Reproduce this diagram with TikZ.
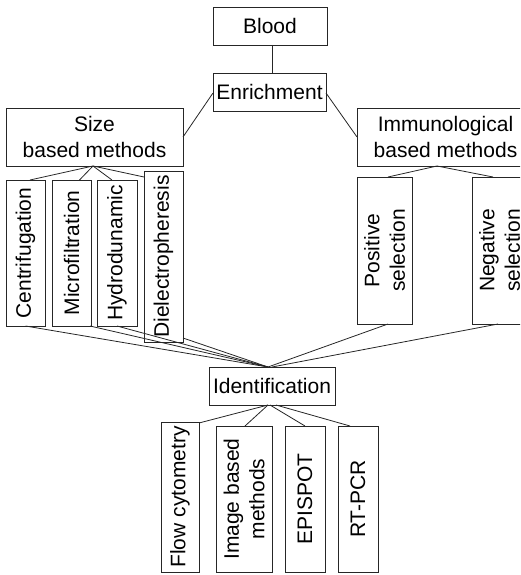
\documentclass[tikz,border=0pt]{standalone}
\usepackage{fontspec}
\setmainfont{Liberation Sans}
\begin{document}
\begin{tikzpicture}[x=1pt,y=-1pt,
  font=\fontsize{21}{25.5}\selectfont,
  box/.style={draw=black!85, line width=0.8pt, inner sep=0pt, outer sep=0pt, align=center},
  vtext/.style={rotate=90, inner sep=0pt, align=center},
  conn/.style={draw=black!85, line width=0.8pt}]
\useasboundingbox (0,0) rectangle (520,575);
\clip (0,0) rectangle (520,575);
% top level
\node[box, minimum width=114pt, minimum height=38pt] (blood) at (270,26) {Blood};
\node[box, minimum width=113pt, minimum height=38pt] (enr) at (269.5,92) {Enrichment};
\node[box, minimum width=177pt, minimum height=58pt] (size) at (94.5,137) {Size\\based methods};
\node[box, minimum width=177pt, minimum height=58pt] (imm) at (445.5,137) {Immunological\\based methods};
% size based children
\node[box, minimum width=39pt, minimum height=146pt] (cen) at (25.5,253) {};
\node[vtext] (centx) at (cen.center) {Centrifugation};
\node[box, minimum width=39pt, minimum height=146pt] (mic) at (71.5,253) {};
\node[vtext] (mictx) at (mic.center) {Microfiltration};
\node[box, minimum width=40pt, minimum height=146pt] (hyd) at (117,253) {};
\node[vtext] (hydtx) at (hyd.center) {Hydrodunamic};
\node[box, minimum width=39pt, minimum height=171pt] (die) at (163.5,256.5) {};
\node[vtext] (dietx) at (die.center) {Dielectropheresis};
% immunological children
\node[box, minimum width=55pt, minimum height=147pt] (pos) at (384.5,250.5) {};
\node[vtext] (postx) at (pos.center) {Positive\\selection};
\node[box, minimum width=55pt, minimum height=147pt] (neg) at (499.5,250.5) {};
\node[vtext] (negtx) at (neg.center) {Negative\\selection};
% identification
\node[box, minimum width=126pt, minimum height=38pt] (idn) at (272,386) {Identification};
\node[box, minimum width=38pt, minimum height=150pt] (flow) at (180,497) {};
\node[vtext] (flowtx) at (flow.center) {Flow cytometry};
\node[box, minimum width=56pt, minimum height=146pt] (img) at (244,499) {};
\node[vtext] (imgtx) at (img.center) {Image based\\methods};
\node[box, minimum width=40pt, minimum height=146pt] (epi) at (305,499) {};
\node[vtext] (epitx) at (epi.center) {EPISPOT};
\node[box, minimum width=40pt, minimum height=146pt] (rt) at (358,499) {};
\node[vtext] (rttx) at (rt.center) {RT-PCR};
% connectors top
\draw[conn] ([xshift=2pt]blood.south) -- ([xshift=2.5pt]enr.north);
\draw[conn] ([yshift=-1pt]enr.west) -- (size.east);
\draw[conn] ([yshift=-1pt]enr.east) -- (imm.west);
% size to children
\coordinate (sizeap) at ([xshift=-1.5pt]size.south);
\draw[conn] (sizeap) -- ([xshift=4.5pt]cen.north);
\draw[conn] (sizeap) -- ([xshift=8pt]mic.north);
\draw[conn] (sizeap) -- ([xshift=-5pt]hyd.north);
\draw[conn] (sizeap) -- ([yshift=-6pt]die.north west);
% immunological to children
\coordinate (immap) at ([xshift=-8.5pt]imm.south);
\draw[conn] (immap) -- ([xshift=3.5pt]pos.north);
\draw[conn] (immap) -- ([xshift=-6.5pt]neg.north);
% to identification
\coordinate (idnin) at ([xshift=-4pt]idn.north);
\draw[conn] (cen.south) -- (idnin);
\draw[conn] ([xshift=-1pt]mic.south east) -- (idnin);
\draw[conn] (hyd.south) -- (idnin);
\draw[conn] ([yshift=4pt]die.south east) -- (idnin);
\draw[conn] ([xshift=3.5pt]pos.south) -- (idnin);
\draw[conn] ([xshift=-1.5pt]neg.south) -- ([xshift=4pt]idnin);
% identification to children
\coordinate (idnout) at ([xshift=-4pt]idn.south);
\draw[conn] (idnout) -- ([yshift=-1pt]flow.north east);
\draw[conn] (idnout) -- ([xshift=1pt]img.north);
\draw[conn] ([xshift=2pt]idnout) -- (epi.north);
\draw[conn] ([xshift=8pt]idnout) -- ([xshift=-8pt]rt.north);
\end{tikzpicture}
\end{document}
